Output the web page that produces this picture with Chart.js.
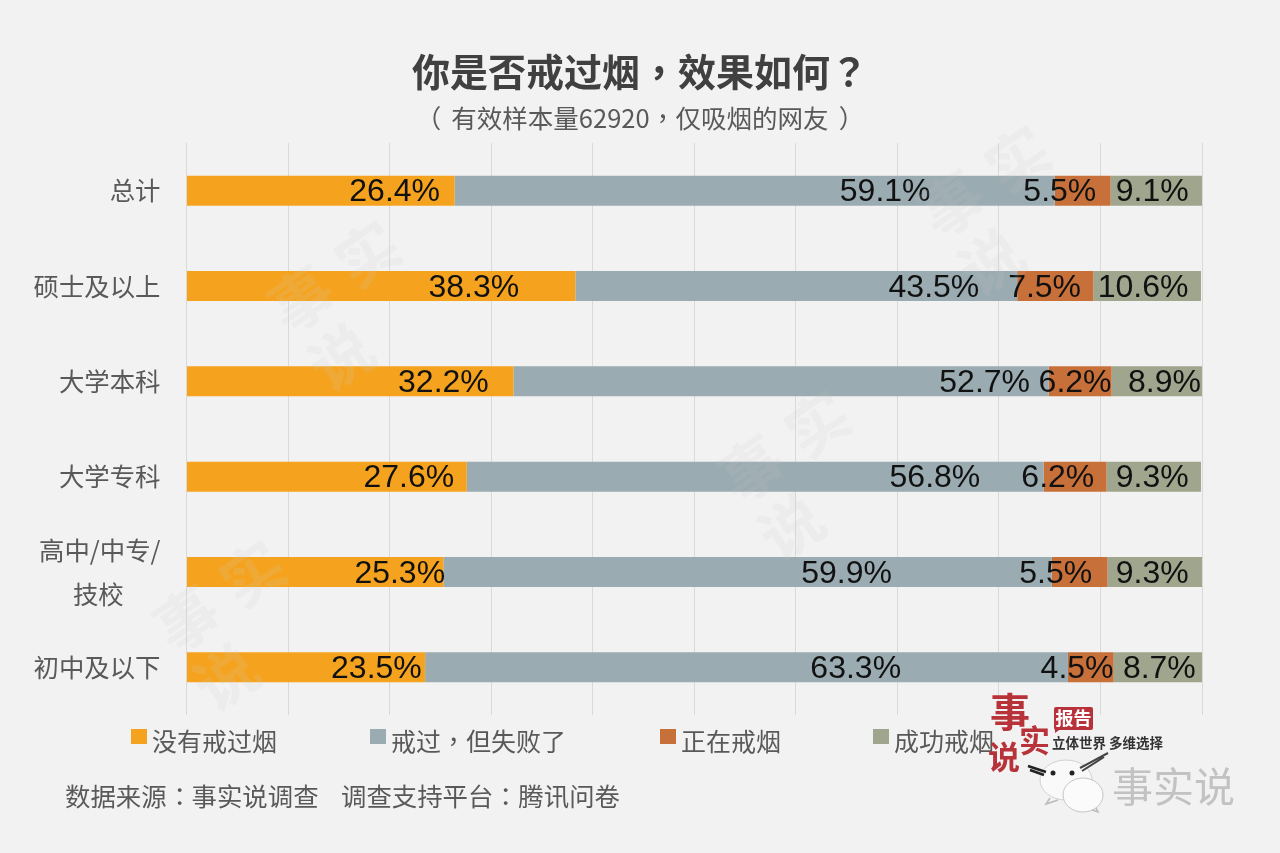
<!DOCTYPE html>
<html>
<head>
<meta charset="utf-8">
<script src="https://cdn.jsdelivr.net/npm/chart.js@4"></script>
<style>
/* the source uses centred full-width punctuation */
@font-face { font-family: "Punct"; src: local("Noto Sans CJK TC"); unicode-range: U+FF0C, U+FF1A, U+FF1F; }
@font-face { font-family: "Punct"; font-weight: 700; src: local("Noto Sans CJK TC Bold"), local("Noto Sans CJK TC"); unicode-range: U+FF0C, U+FF1A, U+FF1F; }
html, body { margin: 0; padding: 0; background: #f2f2f2; }
body { position: relative; width: 1280px; height: 853px; overflow: hidden; font-family: "Punct", "Noto Sans CJK SC", sans-serif; color: #595959; text-spacing-trim: space-all; }
canvas { position: absolute; left: 0; top: 0; }
.txt { position: absolute; white-space: nowrap; line-height: 1; }
#title { left: 0; width: 1280px; top: 51px; text-align: center; font-size: 38px; font-weight: 700; color: #404040; }
#subtitle { left: 0; width: 1280px; top: 104px; text-align: center; font-size: 25.5px; }
#subtitle span { position: relative; }
.swatch { position: absolute; top: 729px; width: 16px; height: 15px; }
.legend { top: 728px; font-size: 25px; }
#logo { position: absolute; left: 0; top: 0; }
</style>
</head>
<body>
<canvas id="chart" width="1280" height="853"></canvas>
<div class="txt" id="title">你是否戒过烟，效果如何？</div>
<div class="txt" id="subtitle"><span style="left:-10px">（</span>有效样本量62920，仅吸烟的网友<span style="left:10px">）</span></div>
<div id="legend"></div>
<div class="txt" style="left:65px;top:783px;font-size:25.4px">数据来源：事实说调查</div>
<div class="txt" style="left:341px;top:783px;font-size:25.4px">调查支持平台：腾讯问卷</div>

<svg id="logo" width="1280" height="853">
  <ellipse cx="1066" cy="780" rx="26" ry="20" fill="#f9f9f9" stroke="#d0d0d0"/>
  <ellipse cx="1083" cy="795" rx="20" ry="17" fill="#fbfbfb" stroke="#c4c4c4"/>
  <path d="M1050 798 L1046 804 L1058 800 M1092 810 L1098 812 L1096 808" fill="none" stroke="#bbb" stroke-width="1.5"/>
  <circle cx="1053" cy="773" r="2.5" fill="#222"/><circle cx="1072" cy="773" r="2.5" fill="#222"/>
  <path d="M1028 766 L1046 772 M1030 770 L1044 775" stroke="#222" stroke-width="2.5"/>
  <path d="M1080 768 L1108 753 M1082 771 L1104 757" stroke="#444" stroke-width="2"/>
  <rect x="1054" y="707" width="39" height="23" rx="2" fill="#b8323a"/>
  <path d="M1055 728 L1055 733 L1062 728 Z" fill="#b8323a"/>
  <text x="1073.5" y="725" text-anchor="middle" font-size="18" font-weight="700" fill="#fff">报告</text>
  <text x="1052" y="748" font-size="13.5" font-weight="700" fill="#333">立体世界 多维选择</text>
  <g font-weight="700" fill="#b8323a">
    <text x="990" y="727" font-size="40">事</text>
    <text x="1019" y="752" font-size="31">实</text>
    <text x="988" y="769" font-size="32">说</text>
  </g>
  <text x="1112" y="802" font-size="41" fill="#c2c2c2">事实说</text>
</svg>

<script>
const categories = ['总计', '硕士及以上', '大学本科', '大学专科', ['高中/中专/', '技校'], '初中及以下'];
const seriesNames = ['没有戒过烟', '戒过，但失败了', '正在戒烟', '成功戒烟'];
const neverQuit = [26.4, 38.3, 32.2, 27.6, 25.3, 23.5];
const failed = [59.1, 43.5, 52.7, 56.8, 59.9, 63.3];
const quitting = [5.5, 7.5, 6.2, 6.2, 5.5, 4.5];
const succeeded = [9.1, 10.6, 8.9, 9.3, 9.3, 8.7];
const seriesColors = ['#f5a31e', '#9aabb1', '#c8703a', '#9fa68d'];
const xTicks = [0, 10, 20, 30, 40, 50, 60, 70, 80, 90, 100];

// where each label sits on the value axis (the source places them by hand)
const labelSpots = [
    [20.5, 28.3, 25.3, 21.9, 21.0, 18.7],
    [68.8, 73.6, 78.6, 73.7, 65.0, 65.9],
    [86.0, 84.5, 87.5, 85.8, 85.6, 87.7],
    [95.1, 94.2, 96.3, 95.1, 95.1, 95.8]
];

// value labels, drawn at labelSpots through the x scale
const valueLabels = {
    id: 'valueLabels',
    afterDatasetsDraw(chart) {
        const ctx = chart.ctx;
        ctx.save();
        ctx.font = '32px "Liberation Sans"';
        ctx.fillStyle = '#111';
        ctx.textAlign = 'center';
        ctx.textBaseline = 'middle';
        chart.data.datasets.forEach((ds, i) => {
            chart.getDatasetMeta(i).data.forEach((bar, j) => {
                ctx.fillText(ds.data[j].toFixed(1) + '%', chart.scales.x.getPixelForValue(labelSpots[i][j]), bar.y + 2);
            });
        });
        ctx.restore();
    }
};

// faint stamp watermarks across the plot
const watermarks = {
    id: 'watermarks',
    afterDraw(chart) {
        const ctx = chart.ctx;
        ctx.save();
        ctx.font = '700 62px "Noto Sans CJK SC"';
        ctx.fillStyle = 'rgba(205,205,205,0.14)';
        ctx.textAlign = 'center';
        ctx.textBaseline = 'middle';
        [[1000, 195], [350, 290], [800, 460], [235, 610]].forEach(([x, y]) => {
            ctx.save();
            ctx.translate(x, y);
            ctx.rotate(-0.6);
            ctx.fillText('事', -45, -20);
            ctx.fillText('实', 35, -20);
            ctx.fillText('说', -45, 50);
            ctx.restore();
        });
        ctx.restore();
    }
};

new Chart(document.getElementById('chart'), {
    type: 'bar',
    data: {
        labels: categories,
        datasets: [neverQuit, failed, quitting, succeeded].map((values, i) => ({
            label: seriesNames[i],
            data: values,
            backgroundColor: seriesColors[i],
            barPercentage: 0.315,
            categoryPercentage: 1
        }))
    },
    options: {
        indexAxis: 'y',
        responsive: false,
        animation: false,
        devicePixelRatio: 1,
        layout: { padding: { top: 143, bottom: 138, right: 78 } },
        plugins: { legend: { display: false }, title: { display: false }, tooltip: { enabled: false } },
        scales: {
            x: {
                stacked: true,
                min: 0,
                max: 100,
                afterBuildTicks(axis) { axis.ticks = xTicks.map(v => ({ value: v })); },
                ticks: { display: false },
                grid: { color: '#d9d9d9', lineWidth: 1, drawTicks: false },
                border: { display: false }
            },
            y: {
                stacked: true,
                afterFit(axis) { axis.width = 186.5; },
                grid: { display: false },
                border: { display: false },
                ticks: {
                    padding: 18,
                    color: '#595959',
                    font: { family: '"Noto Sans CJK SC"', size: 25.4, lineHeight: 1.72 },
                    // second line of the wrapped label is centred under the first
                    callback(value) {
                        const label = categories[value];
                        return Array.isArray(label) ? [label[0], label[1] + '\u3000  '] : label;
                    }
                }
            }
        }
    },
    plugins: [valueLabels, watermarks]
});

// legend, spaced like the source
const swatchX = [131, 370, 660, 873];
const legendBox = document.getElementById('legend');
legendBox.innerHTML = seriesNames.map((name, i) => `
    <div class="swatch" style="left:${swatchX[i]}px;background:${seriesColors[i]}"></div>
    <div class="txt legend" style="left:${swatchX[i] + 21}px">${name}</div>
`).join('');
</script>
</body>
</html>
